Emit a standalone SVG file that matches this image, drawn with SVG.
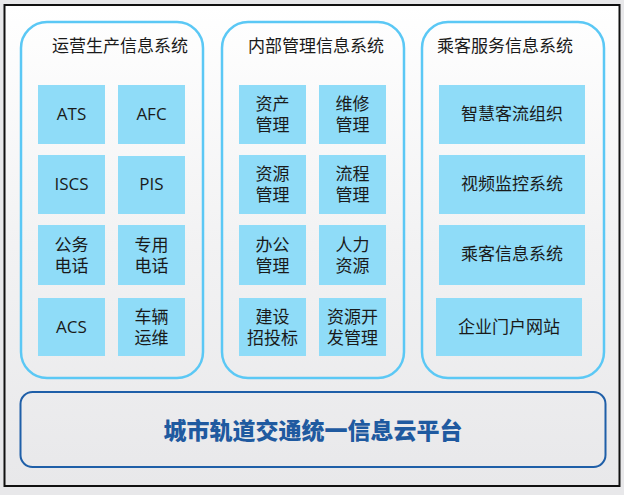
<svg xmlns="http://www.w3.org/2000/svg" width="624" height="495" viewBox="0 0 624 495">
<defs><linearGradient id="bg" x1="0" y1="0" x2="0" y2="1"><stop offset="0" stop-color="#ffffff"/><stop offset="0.5" stop-color="#f2f2f3"/><stop offset="1" stop-color="#e8e8ea"/></linearGradient></defs>
<style>
.col{fill:none;stroke:#5bc8f5;stroke-width:2.5}
.cell{fill:#8fdcf8}
.t{font-family:"Open Sans","Noto Sans CJK SC",sans-serif;font-size:17px;fill:#1a1a1a;text-anchor:middle}
.h{font-family:"Noto Sans CJK SC",sans-serif;font-size:17px;fill:#1a1a1a;text-anchor:middle}
.b{font-family:"Noto Sans CJK SC",sans-serif;font-size:23px;font-weight:900;fill:#1f5aa0;text-anchor:middle}
</style>
<rect width="624" height="495" fill="#e8e8ea"/>
<rect x="4.5" y="5" width="615" height="481" fill="url(#bg)" stroke="#111" stroke-width="2"/>
<g id="col1"><rect class="col" x="21" y="22" width="182" height="356" rx="26"/><text class="h" x="120" y="52">运营生产信息系统</text>
<rect class="cell" x="38" y="85" width="67" height="59"/><text class="t" x="71.5" y="120">ATS</text>
<rect class="cell" x="118" y="85" width="67" height="59"/><text class="t" x="151.5" y="120">AFC</text>
<rect class="cell" x="38" y="155" width="67" height="59"/><text class="t" x="71.5" y="190">ISCS</text>
<rect class="cell" x="118" y="156" width="67" height="58"/><text class="t" x="151.5" y="190">PIS</text>
<rect class="cell" x="38" y="225" width="67" height="60"/><text class="t" x="71.5" y="251">公务</text><text class="t" x="71.5" y="272">电话</text>
<rect class="cell" x="118" y="225" width="67" height="60"/><text class="t" x="151.5" y="251">专用</text><text class="t" x="151.5" y="272">电话</text>
<rect class="cell" x="38" y="298" width="67" height="58"/><text class="t" x="71.5" y="333">ACS</text>
<rect class="cell" x="118" y="298" width="67" height="58"/><text class="t" x="151.5" y="323">车辆</text><text class="t" x="151.5" y="344">运维</text></g>
<g id="col2"><rect class="col" x="222" y="22" width="182" height="356" rx="26"/><text class="h" x="316" y="52">内部管理信息系统</text>
<rect class="cell" x="239" y="85" width="67" height="59"/><text class="t" x="272.5" y="110">资产</text><text class="t" x="272.5" y="131">管理</text>
<rect class="cell" x="319" y="85" width="67" height="59"/><text class="t" x="352.5" y="110">维修</text><text class="t" x="352.5" y="131">管理</text>
<rect class="cell" x="239" y="155" width="67" height="59"/><text class="t" x="272.5" y="180">资源</text><text class="t" x="272.5" y="201">管理</text>
<rect class="cell" x="319" y="155" width="67" height="59"/><text class="t" x="352.5" y="180">流程</text><text class="t" x="352.5" y="201">管理</text>
<rect class="cell" x="239" y="225" width="67" height="60"/><text class="t" x="272.5" y="251">办公</text><text class="t" x="272.5" y="272">管理</text>
<rect class="cell" x="319" y="225" width="67" height="60"/><text class="t" x="352.5" y="251">人力</text><text class="t" x="352.5" y="272">资源</text>
<rect class="cell" x="239" y="298" width="67" height="58"/><text class="t" x="272.5" y="323">建设</text><text class="t" x="272.5" y="344">招投标</text>
<rect class="cell" x="319" y="298" width="67" height="58"/><text class="t" x="352.5" y="323">资源开</text><text class="t" x="352.5" y="344">发管理</text></g>
<g id="col3"><rect class="col" x="422" y="22" width="182" height="356" rx="26"/><text class="h" x="505" y="52">乘客服务信息系统</text>
<rect class="cell" x="439" y="85" width="146" height="59"/><text class="t" x="512" y="120">智慧客流组织</text>
<rect class="cell" x="439" y="155" width="146" height="59"/><text class="t" x="512" y="190">视频监控系统</text>
<rect class="cell" x="439" y="225" width="146" height="60"/><text class="t" x="512" y="260">乘客信息系统</text>
<rect class="cell" x="436" y="298" width="146" height="58"/><text class="t" x="509" y="333">企业门户网站</text></g>
<g id="platform"><rect x="20.5" y="392" width="585" height="75" rx="12" fill="none" stroke="#1f5fa8" stroke-width="2"/><text class="b" x="313" y="439">城市轨道交通统一信息云平台</text></g>
<g id="connectors"/>
</svg>
